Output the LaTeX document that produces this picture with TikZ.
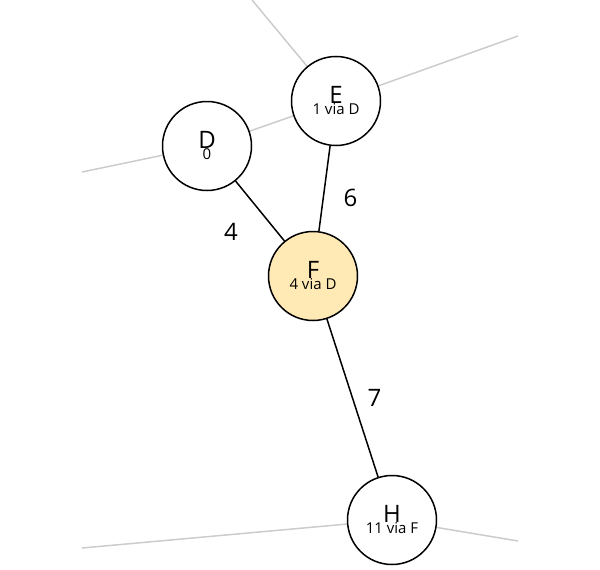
\documentclass[tikz,border=0pt]{standalone}
\usepackage{fontspec}
\setmainfont{Open Sans}
\usetikzlibrary{positioning}
\tikzset{
	vertex/.style={draw, circle, minimum size=89pt, inner sep=0pt, fill=white, line width=1.5pt, align=center},
	edge/.style={line width=1.5pt},
	faded/.style={draw=black!20, line width=1.5pt},
	weight/.style={font=\fontsize{24}{24}\selectfont},
}
\newcommand{\vlabel}[2]{\fontsize{24}{24}\selectfont #1\\[-1pt]\fontsize{15}{18}\selectfont #2}

\begin{document}
\begin{tikzpicture}[x=1pt, y=-1pt]
\useasboundingbox (0,0) rectangle (600,570);
% the loose ends
\coordinate (nw) at (252,0);
\coordinate (ne) at (518,36);
\coordinate (w) at (82,172);
\coordinate (sw) at (82,548);
\coordinate (se) at (518,541);

% the grey edges
\draw[faded] (336,101) -- (nw);
\draw[faded] (336,101) -- (ne);
\draw[faded] (207,146) -- (w);
\draw[faded] (207,146) -- (336,101);
\draw[faded] (392,520) -- (sw);
\draw[faded] (392,520) -- (se);

% the vertices
\node[vertex] (D) at (207,146) {\vlabel{D}{0}};
\node[vertex] (E) at (336,101) {\vlabel{E}{1 via D}};
\node[vertex, fill={rgb,255:red,255;green,233;blue,181}] (F) at (313,276) {\vlabel{F}{4 via D}};
\node[vertex] (H) at (392,520) {\vlabel{H}{11 via F}};

% the tree edges
\draw[edge] (D) -- node[weight, xshift=-29pt, yshift=-21pt] {4} (F);
\draw[edge] (E) -- node[weight, xshift=26pt, yshift=-9pt] {6} (F);
\draw[edge] (F) -- node[weight, xshift=22pt] {7} (H);
\end{tikzpicture}
\end{document}
